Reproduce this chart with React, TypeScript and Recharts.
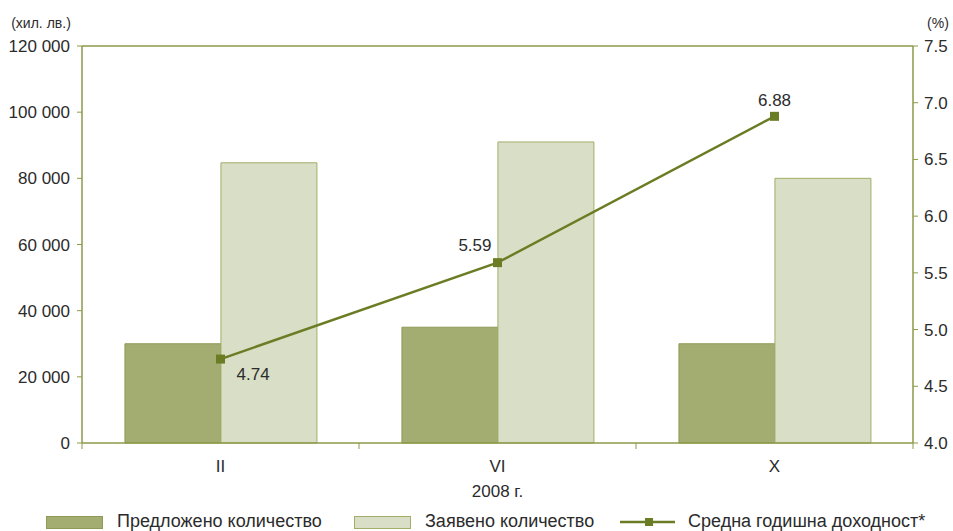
import React from 'react';
import {
  ComposedChart,
  Bar,
  Line,
  XAxis,
  YAxis,
  ReferenceLine,
  LabelList,
  Legend,
} from 'recharts';

const categories = ['II', 'VI', 'X'];
const offeredValues = [30000, 35000, 30000];
const requestedValues = [84700, 91000, 80000];
const yieldValues = [4.74, 5.59, 6.88];
const leftTicks = [0, 20000, 40000, 60000, 80000, 100000, 120000];
const rightTicks = [4.0, 4.5, 5.0, 5.5, 6.0, 6.5, 7.0, 7.5];

const data = categories.map((c, i) => ({
  name: c,
  offered: offeredValues[i],
  requested: requestedValues[i],
  yield: yieldValues[i],
}));

const FONT = "'Liberation Sans', Arial, sans-serif";
const TEXT = '#2b2b2b';
const AXIS = '#8c9a48';
const DARK_FILL = '#a3ad72';
const DARK_STROKE = '#8e9a55';
const LIGHT_FILL = '#d9dfc7';
const LIGHT_STROKE = '#a2ae68';
const LINE = '#6b7d24';

const X_TICK_SIZE = 6;
const X_TICK_MARGIN = 11;

const fmtThousands = (v: number) =>
  String(v).replace(/\B(?=(\d{3})+(?!\d))/g, ' ');

const XTick = (props: any) => {
  const { x, y, payload, index, width } = props;
  const band = width / categories.length;
  const axisY = y - X_TICK_SIZE - X_TICK_MARGIN;
  const left = x - band / 2;
  return (
    <g>
      <line x1={left} x2={left} y1={axisY} y2={axisY + X_TICK_SIZE} stroke={AXIS} strokeWidth={1} />
      {index === categories.length - 1 && (
        <line x1={x + band / 2} x2={x + band / 2} y1={axisY} y2={axisY + X_TICK_SIZE} stroke={AXIS} strokeWidth={1} />
      )}
      <text x={x} y={y + 12} textAnchor="middle" fill={TEXT} fontSize={17} fontFamily={FONT}>
        {payload.value}
      </text>
    </g>
  );
};

// label placement relative to point, per index
const labelPlacement = [
  { dx: 16, dy: 21, anchor: 'start' },
  { dx: -6, dy: -12, anchor: 'end' },
  { dx: 0, dy: -10, anchor: 'middle' },
];

const PointLabel = (props: any) => {
  const { x, y, value, index } = props;
  const p = labelPlacement[index] || labelPlacement[2];
  return (
    <text x={x + p.dx} y={y + p.dy} textAnchor={p.anchor} fill={TEXT} fontSize={17} fontFamily={FONT}>
      {Number(value).toFixed(2)}
    </text>
  );
};

const SquareDot = (props: any) => {
  const { cx, cy, index } = props;
  if (cx == null || cy == null) return null;
  return <rect key={`dot-${index}`} x={cx - 4.5} y={cy - 4.5} width={9} height={9} fill={LINE} />;
};

const LegendContent = () => (
  <svg width={953} height={25} style={{ display: 'block', overflow: 'visible' }}>
    <rect x={46.5} y={10.5} width={56} height={12} fill={DARK_FILL} stroke={DARK_STROKE} />
    <text x={117} y={21} fontSize={18} fontFamily={FONT} fill={TEXT}>
      Предложено количество
    </text>
    <rect x={354.5} y={10.5} width={56} height={12} fill={LIGHT_FILL} stroke={LIGHT_STROKE} />
    <text x={425} y={21} fontSize={18} fontFamily={FONT} fill={TEXT}>
      Заявено количество
    </text>
    <line x1={620} x2={675} y1={16} y2={16} stroke={LINE} strokeWidth={2.5} />
    <rect x={645} y={12} width={8} height={8} fill={LINE} />
    <text x={688} y={21} fontSize={18} fontFamily={FONT} fill={TEXT}>
      Средна годишна доходност*
    </text>
  </svg>
);

export default function App() {
  return (
    <div style={{ position: 'absolute', left: 0, top: 0, width: 953, height: 531, background: '#fff' }}>
      <ComposedChart
        width={953}
        height={531}
        data={data}
        margin={{ top: 46, right: 0, left: 0, bottom: 0 }}
        barCategoryGap="15.5%"
        barGap={0}
        style={{ fontFamily: FONT }}
      >
        <XAxis
          dataKey="name"
          xAxisId="x"
          height={88}
          axisLine={{ stroke: AXIS, strokeWidth: 1.5 }}
          tickLine={false}
          tickSize={X_TICK_SIZE}
          tickMargin={X_TICK_MARGIN}
          tick={<XTick />}
          interval={0}
          label={{
            content: (p: any) => {
              const vb = p.viewBox || {};
              return (
                <text x={vb.x + vb.width / 2} y={vb.y + 54} textAnchor="middle" fill={TEXT} fontSize={17} fontFamily={FONT}>
                  2008 г.
                </text>
              );
            },
          }}
        />
        <YAxis
          yAxisId="left"
          orientation="left"
          width={82}
          domain={[0, 120000]}
          ticks={leftTicks}
          interval={0}
          tickFormatter={fmtThousands}
          axisLine={{ stroke: AXIS, strokeWidth: 1.5 }}
          tickLine={{ stroke: AXIS }}
          tickSize={5}
          tickMargin={7}
          tick={{ fill: TEXT, fontSize: 17, fontFamily: FONT }}
          label={{
            content: (p: any) => {
              const vb = p.viewBox || {};
              return (
                <text x={vb.x + vb.width / 2} y={28} textAnchor="middle" fill={TEXT} fontSize={14} fontFamily={FONT}>
                  (хил. лв.)
                </text>
              );
            },
          }}
        />
        <YAxis
          yAxisId="right"
          orientation="right"
          width={40}
          domain={[4, 7.5]}
          ticks={rightTicks}
          interval={0}
          tickFormatter={(v: number) => v.toFixed(1)}
          axisLine={{ stroke: AXIS, strokeWidth: 1.5 }}
          tickLine={{ stroke: AXIS }}
          tickSize={5}
          tickMargin={6}
          tick={{ fill: TEXT, fontSize: 17, fontFamily: FONT }}
          label={{
            content: (p: any) => {
              const vb = p.viewBox || {};
              return (
                <text x={vb.x + 25} y={28} textAnchor="middle" fill={TEXT} fontSize={14} fontFamily={FONT}>
                  (%)
                </text>
              );
            },
          }}
        />
        <ReferenceLine yAxisId="left" xAxisId="x" y={120000} stroke={AXIS} strokeWidth={1.5} />
        <Bar dataKey="offered" xAxisId="x" yAxisId="left" fill={DARK_FILL} stroke={DARK_STROKE} strokeWidth={1} isAnimationActive={false} />
        <Bar dataKey="requested" xAxisId="x" yAxisId="left" fill={LIGHT_FILL} stroke={LIGHT_STROKE} strokeWidth={1} isAnimationActive={false} />
        <Line
          dataKey="yield"
          xAxisId="x"
          yAxisId="right"
          type="linear"
          stroke={LINE}
          strokeWidth={2.5}
          dot={<SquareDot />}
          activeDot={false}
          isAnimationActive={false}
        >
          <LabelList dataKey="yield" content={<PointLabel />} />
        </Line>
        <Legend
          layout="vertical"
          align="center"
          verticalAlign="middle"
          wrapperStyle={{ position: 'absolute', left: 0, top: 506, width: 953, height: 25 }}
          content={() => <LegendContent />}
        />
      </ComposedChart>
    </div>
  );
}
